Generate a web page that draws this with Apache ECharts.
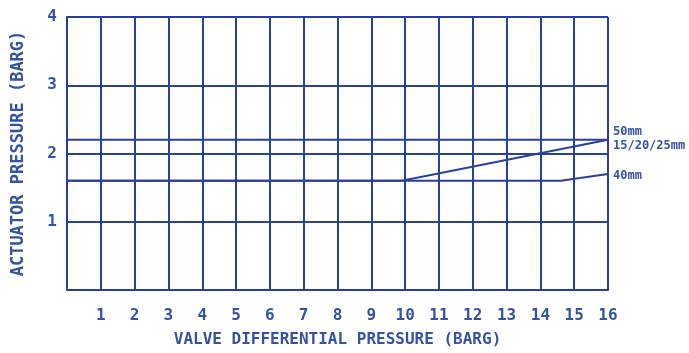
<!DOCTYPE html>
<html>
<head>
<meta charset="utf-8">
<script src="https://cdn.jsdelivr.net/npm/echarts@6/dist/echarts.min.js"></script>
<style>html,body{margin:0;padding:0;background:#fff;}#c{width:689px;height:353px;}</style>
</head>
<body>
<div id="c"></div>
<script>
const xTickLabels = ['1','2','3','4','5','6','7','8','9','10','11','12','13','14','15','16'];
const yTickLabels = ['1','2','3','4'];
const seriesNames = ['50mm', '15/20/25mm', '40mm'];
const line50 = [[0, 2.2], [16, 2.2]];
const line152025 = [[0, 1.6], [9.9, 1.6], [16, 2.2]];
const line40 = [[0, 1.6], [14.6, 1.6], [16, 1.7]];

const LINE = '#2a419c';
const TEXT = '#3552a8';
const FONT = 'DejaVu Sans Mono';

const chart = echarts.init(document.getElementById('c'), null, {renderer: 'canvas'});
const mk = (name, data, off) => ({
  name, type: 'line', data, symbol: 'none', silent: true,
  lineStyle: {color: LINE, width: 2},
  itemStyle: {color: LINE},
  endLabel: {show: true, formatter: name, color: TEXT, fontFamily: FONT, fontWeight: 'bold', fontSize: 12, offset: off, distance: 5}
});
chart.setOption({
  animation: false,
  backgroundColor: '#fff',
  grid: {left: 67, top: 17, right: 81, bottom: 63, containLabel: false},
  xAxis: {
    type: 'value', min: 0, max: 16, interval: 1,
    name: 'VALVE DIFFERENTIAL PRESSURE (BARG)', nameLocation: 'middle', nameGap: 42,
    nameTextStyle: {color: TEXT, fontFamily: FONT, fontWeight: 'bold', fontSize: 16},
    axisLine: {show: true, lineStyle: {color: LINE, width: 2}},
    axisTick: {show: false},
    axisLabel: {color: TEXT, fontFamily: FONT, fontWeight: 'bold', fontSize: 16, margin: 18,
      formatter: v => (v >= 1 ? xTickLabels[v - 1] : '')},
    splitLine: {show: true, lineStyle: {color: LINE, width: 2}}
  },
  yAxis: {
    type: 'value', min: 0, max: 4, interval: 1,
    name: 'ACTUATOR PRESSURE (BARG)', nameLocation: 'middle', nameGap: 40, nameRotate: 90,
    nameTextStyle: {color: TEXT, fontFamily: FONT, fontWeight: 'bold', fontSize: 17},
    axisLine: {show: true, lineStyle: {color: LINE, width: 2}},
    axisTick: {show: false},
    axisLabel: {color: TEXT, fontFamily: FONT, fontWeight: 'bold', fontSize: 16, margin: 10,
      formatter: v => (v >= 1 ? yTickLabels[v - 1] : '')},
    splitLine: {show: true, lineStyle: {color: LINE, width: 2}}
  },
  series: [
    mk(seriesNames[0], line50, [0, -8]),
    mk(seriesNames[1], line152025, [0, 6]),
    mk(seriesNames[2], line40, [0, 2])
  ]
});
</script>
</body>
</html>
